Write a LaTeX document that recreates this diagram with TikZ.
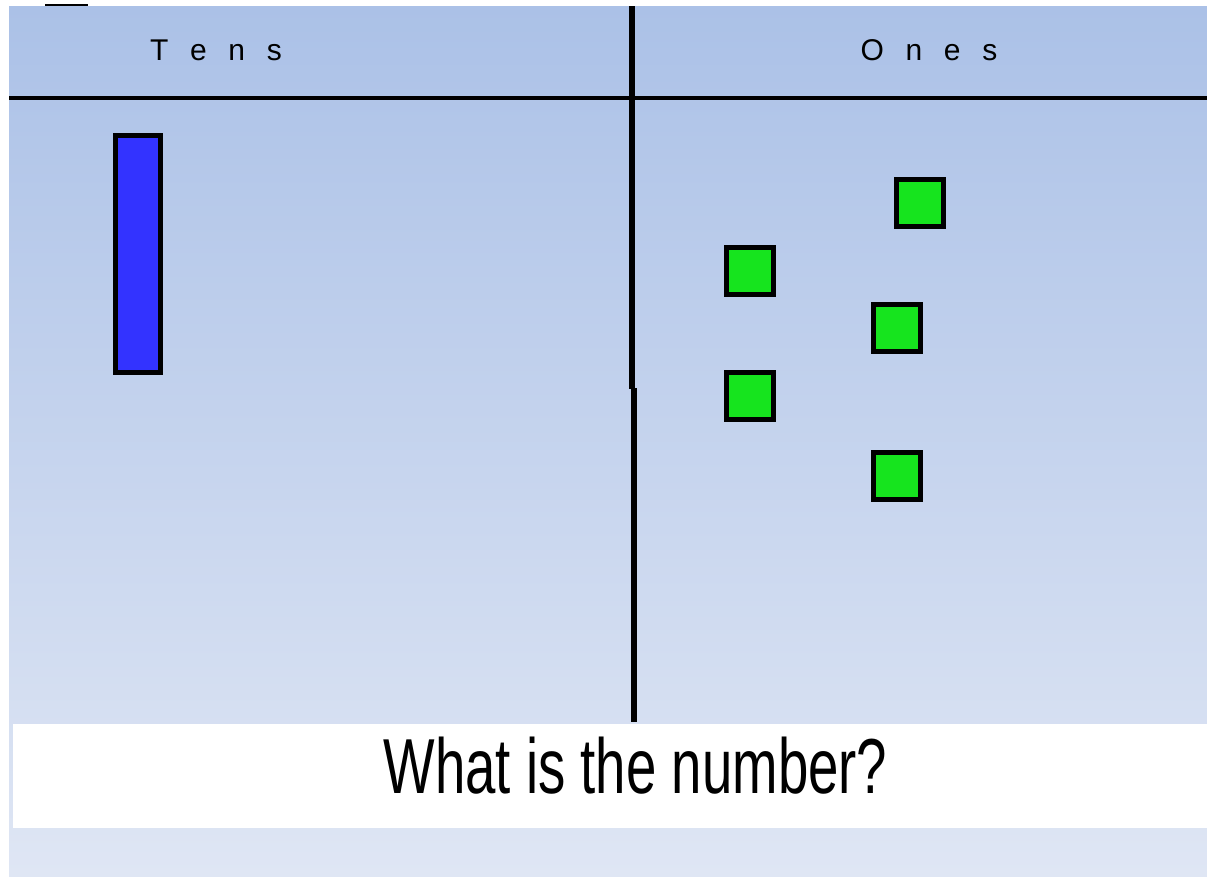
\documentclass[tikz,border=0pt]{standalone}
\usepackage{fontspec}
\setmainfont{Liberation Sans}
\newfontfamily\headfont[WordSpace=2.6]{Liberation Sans}
\newfontfamily\askfont[FakeStretch=0.7]{Liberation Sans}
\definecolor{bgtop}{HTML}{ABC1E7}
\definecolor{bgbot}{HTML}{DFE6F4}
\definecolor{tenblue}{HTML}{3333FF}
\definecolor{onegreen}{HTML}{16E41E}

\begin{document}
\begin{tikzpicture}[
        x=1pt, y=-1pt,
        rod/.style={
            draw,
            line width=5pt,
            fill=tenblue,
            minimum width=45pt,
            minimum height=237pt,
            inner sep=0pt
        },
        cube/.style={
            draw,
            line width=5pt,
            fill=onegreen,
            minimum size=47pt,
            inner sep=0pt
        },
        heading/.style={
            font=\headfont\fontsize{30}{36}\selectfont,
            inner sep=0pt,
            anchor=base
        },
        rule/.style={line width=4pt}
    ]

    \useasboundingbox (0,0) rectangle (1207,876);

    % board
    \shade[top color=bgtop, bottom color=bgbot] (9,6) rectangle (1207,876);
    \draw[line width=1.5pt] (45,5) -- (88,5);

    % columns
    \draw[rule] (9,98) -- (1207,98);
    \draw[line width=6pt] (631.5,6) -- (631.5,389);
    \draw[line width=6pt] (633.5,388) -- (633.5,722);

    \node[heading] (tens) at (216,60) {T e n s};
    \node[heading] (ones) at (929,60) {O n e s};

    % blocks
    \node[rod] (ten1) at (138,254) {};

    \node[cube] (one1) at (920,202.5) {};
    \node[cube] (one2) at (750,270.5) {};
    \node[cube] (one3) at (897,327.5) {};
    \node[cube] (one4) at (750,395.5) {};
    \node[cube] (one5) at (897,475.5) {};

    % question strip
    \fill[white] (13,724) rectangle (1207,828);
    \node[font=\askfont\fontsize{78}{90}\selectfont, inner sep=0pt, anchor=base]
        (ask) at (635.5,793) {What is the number?};

    \end{tikzpicture}
\end{document}
